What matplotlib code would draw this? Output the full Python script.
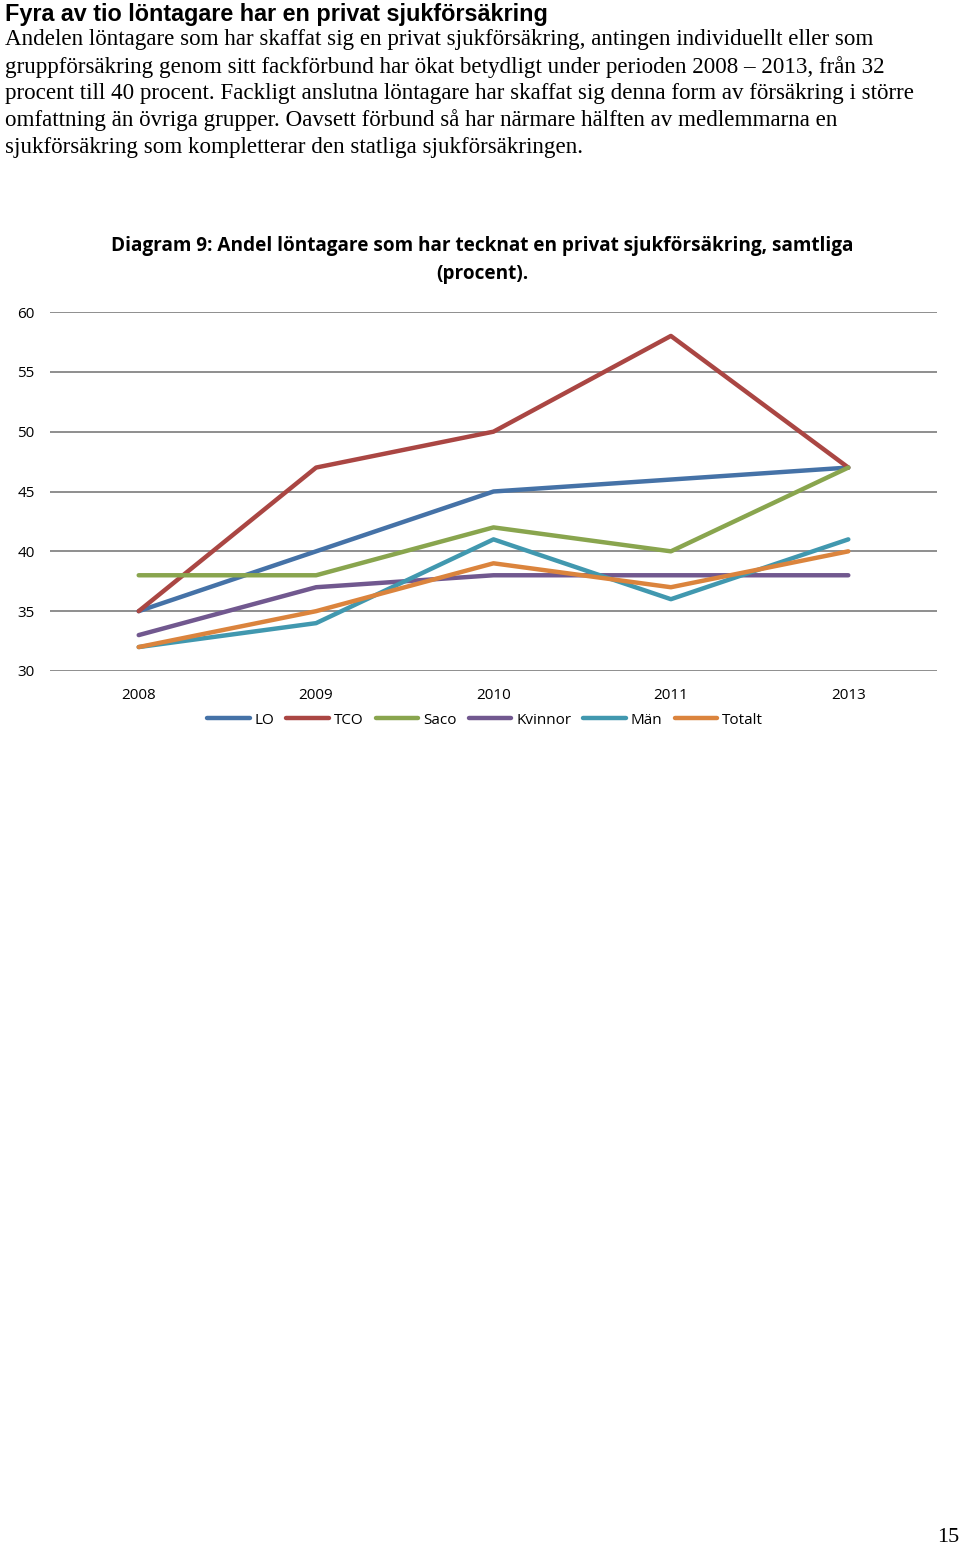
import matplotlib
matplotlib.use('Agg')
from matplotlib import pyplot as plt

years = ['2008', '2009', '2010', '2011', '2013']
series_names = ['LO', 'TCO', 'Saco', 'Kvinnor', 'Män', 'Totalt']
lo = [35, 40, 45, 46, 47]
tco = [35, 47, 50, 58, 47]
saco = [38, 38, 42, 40, 47]
kvinnor = [33, 37, 38, 38, 38]
man = [32, 34, 41, 36, 41]
totalt = [32, 35, 39, 37, 40]
colors = ['#4572A7', '#AA4643', '#89A54E', '#71588F', '#4198AF', '#DB843D']
y_ticks = [30, 35, 40, 45, 50, 55, 60]

heading = 'Fyra av tio löntagare har en privat sjukförsäkring'
body_lines = [
    'Andelen löntagare som har skaffat sig en privat sjukförsäkring, antingen individuellt eller som',
    'gruppförsäkring genom sitt fackförbund har ökat betydligt under perioden 2008 – 2013, från 32',
    'procent till 40 procent. Fackligt anslutna löntagare har skaffat sig denna form av försäkring i större',
    'omfattning än övriga grupper. Oavsett förbund så har närmare hälften av medlemmarna en',
    'sjukförsäkring som kompletterar den statliga sjukförsäkringen.',
]
chart_title = 'Diagram 9: Andel löntagare som har tecknat en privat sjukförsäkring, samtliga\n(procent).'

W, H = 960, 1547
fig = plt.figure(figsize=(W / 100, H / 100), dpi=100)


def fy(py):
    return 1 - py / H


fig.text(5 / W, fy(14), heading, fontsize=16.8, fontweight='bold',
         family='Liberation Sans', va='center', ha='left')
for i, line in enumerate(body_lines):
    fig.text(5 / W, fy(40 + i * 26.8), line, fontsize=16.6,
             family='Liberation Serif', va='center', ha='left')

fig.text(482 / W, fy(260), chart_title, fontsize=13.7, fontweight='bold',
         family='Open Sans', va='center', ha='center', linespacing=1.5)

ax = fig.add_axes([50 / W, fy(671), 887 / W, (671 - 312) / H])
all_data = [lo, tco, saco, kvinnor, man, totalt]
x = list(range(len(years)))
handles = []
for name, vals, c in zip(series_names, all_data, colors):
    h, = ax.plot(x, vals, color=c, lw=3.2, solid_capstyle='round', label=name)
    handles.append(h)

ax.set_xlim(-0.5, len(years) - 0.5)
ax.set_ylim(30, 60)
ax.set_yticks(y_ticks)
ax.set_xticks(x)
ax.set_xticklabels(years)
ax.grid(axis='y', color='#868686', lw=1.3)
ax.set_axisbelow(True)
for s in ax.spines.values():
    s.set_visible(False)
ax.tick_params(length=0, labelsize=11, colors='black')
ax.tick_params(axis='y', pad=11)
ax.tick_params(axis='x', pad=12)
for lab in ax.get_xticklabels() + ax.get_yticklabels():
    lab.set_family('Open Sans')

leg = fig.legend(handles=handles, loc='center', bbox_to_anchor=(485 / W, fy(720)),
                 ncol=6, frameon=False, handlelength=2.8, handletextpad=0.3,
                 columnspacing=0.8, prop={'family': 'Open Sans', 'size': 11})

fig.text(948 / W, fy(1537), '15', fontsize=16, family='Liberation Serif',
         va='center', ha='center')

fig.savefig('out.png', dpi=100, facecolor='white')
